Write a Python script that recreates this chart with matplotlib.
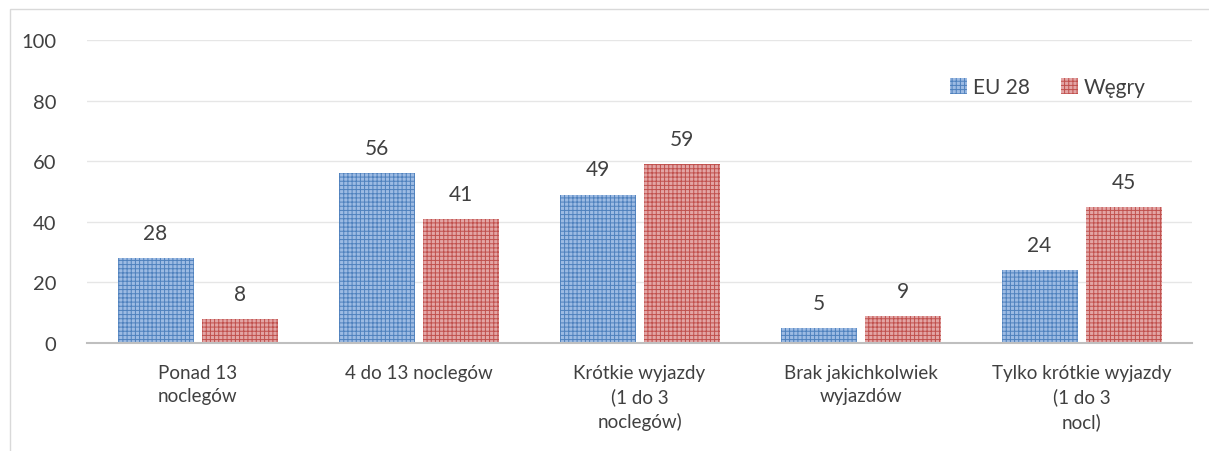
import matplotlib.pyplot as plt
import numpy as np
from matplotlib.patches import Rectangle

plt.rcParams['font.family'] = ['Lato', 'DejaVu Sans']
plt.rcParams['hatch.linewidth'] = 0.7

kategorie = ['Ponad 13\nnoclegów', '4 do 13 noclegów', 'Krótkie wyjazdy\n(1 do 3\nnoclegów)',
             'Brak jakichkolwiek\nwyjazdów', 'Tylko krótkie wyjazdy\n(1 do 3\nnocl)']
eu28 = [28, 56, 49, 5, 24]
wegry = [8, 41, 59, 9, 45]

fig = plt.figure(figsize=(12.09, 4.52), dpi=100)
ax = fig.add_axes([0.072, 0.239, 0.914, 0.670])

x = np.arange(len(kategorie))
w = 0.344
off = 0.19
b1 = ax.bar(x - off, eu28, w, color='#9dbbe3', edgecolor='#4f81bd', hatch='++++', linewidth=0,
            label='EU 28')
b2 = ax.bar(x + off, wegry, w, color='#e3a5a5', edgecolor='#c0504d', hatch='++++', linewidth=0,
            label='Węgry')

for bars, vals in [(b1, eu28), (b2, wegry)]:
    for r, v in zip(bars, vals):
        ax.text(r.get_x() + r.get_width() / 2, v + 5, str(v), ha='center', va='bottom',
                fontsize=15, color='#404040')

ax.set_xlim(-0.5, 4.5)
ax.set_ylim(0, 100)
ax.set_yticks(range(0, 101, 20))
ax.set_xticks(x)
ax.set_xticklabels(kategorie, fontsize=13.5, color='#404040', va='top', linespacing=1.45)
ax.tick_params(axis='y', labelsize=14.5, labelcolor='#404040', length=0, pad=22)
ax.tick_params(axis='x', length=0, pad=15)
ax.grid(axis='y', color='#e6e6e6', linewidth=1)
ax.set_axisbelow(True)
for s in ['top', 'right', 'left']:
    ax.spines[s].set_visible(False)
ax.spines['bottom'].set_color('#bfbfbf')
ax.spines['bottom'].set_linewidth(1.5)

ax.legend(loc='upper right', bbox_to_anchor=(0.975, 0.94), ncol=2, frameon=False, fontsize=15,
          handlelength=0.8, handleheight=0.8, handletextpad=0.3, columnspacing=1.5,
          labelcolor='#404040')

fig.patches.append(Rectangle((10 / 1209, -0.1), 1.2, 1 - 10 / 452 + 0.1, transform=fig.transFigure,
                             fill=False, edgecolor='#d9d9d9', linewidth=1))

fig.savefig('out.png', dpi=100)
